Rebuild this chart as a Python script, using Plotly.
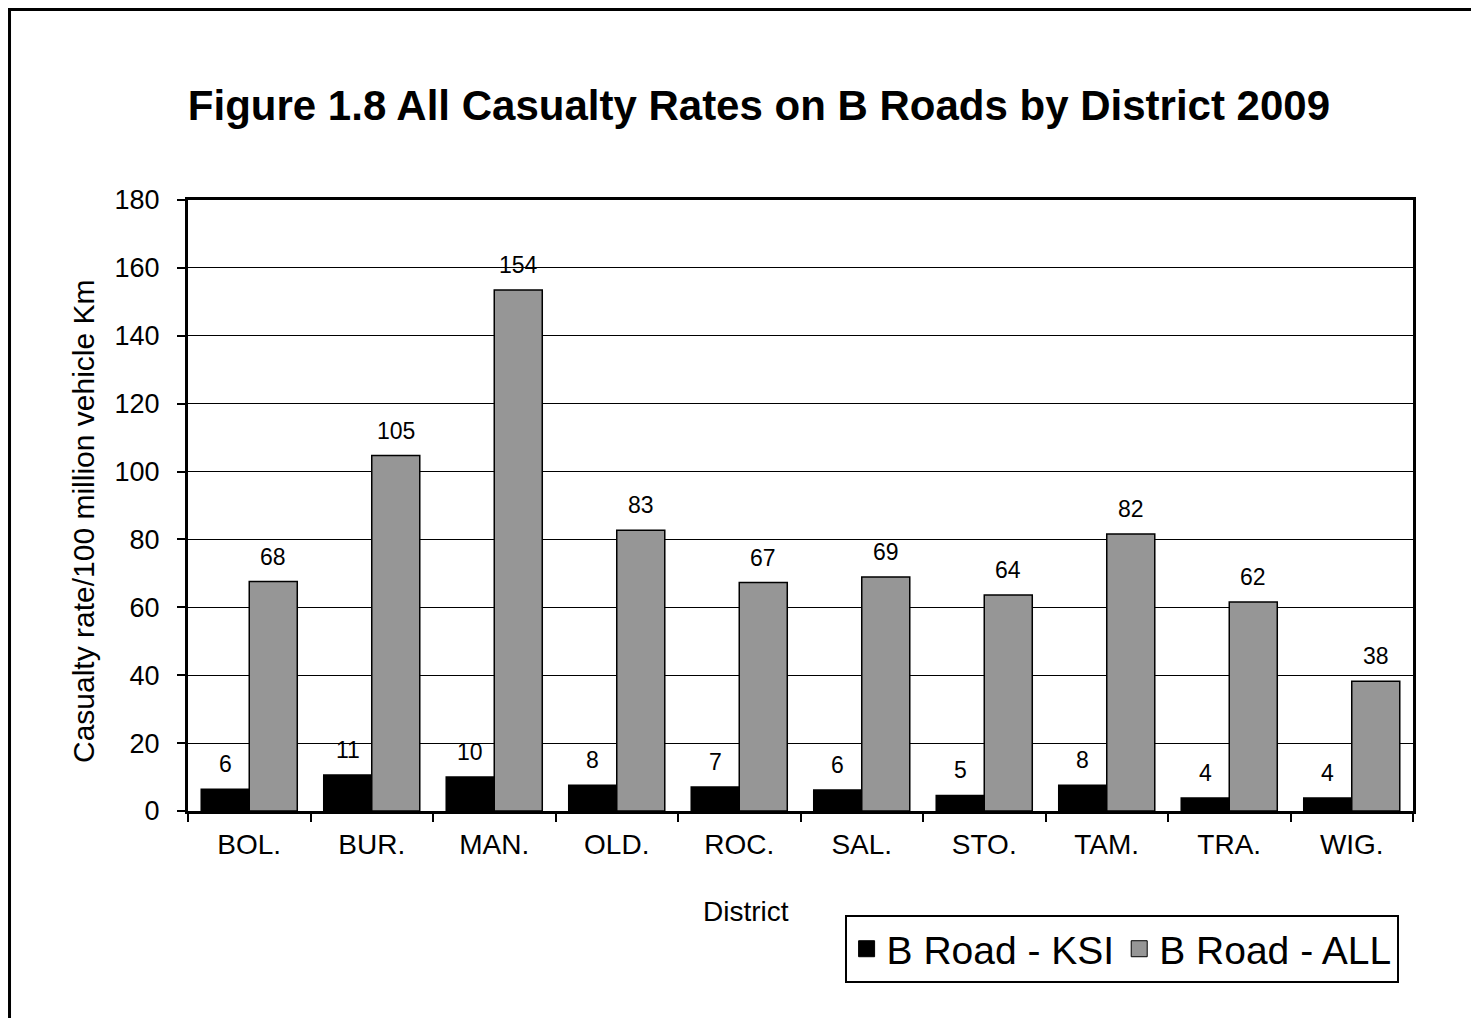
import plotly.graph_objects as go

districts = ["BOL.", "BUR.", "MAN.", "OLD.", "ROC.", "SAL.", "STO.", "TAM.", "TRA.", "WIG."]
ksi = [6.4, 10.6, 10.0, 7.6, 7.1, 6.2, 4.6, 7.6, 3.8, 3.8]
all_cas = [67.6, 104.7, 153.5, 82.7, 67.3, 68.9, 63.6, 81.6, 61.6, 38.2]
y_ticks = [0, 20, 40, 60, 80, 100, 120, 140, 160, 180]

FONT = "Liberation Sans, Arial, sans-serif"
GRAY = "rgb(150,150,150)"

W, H = 1471, 1010

fig = go.Figure()
fig.add_trace(go.Bar(name="B Road - KSI", x=districts, y=ksi,
                     marker=dict(color="black", line=dict(color="black", width=1.5)),
                     showlegend=False))
fig.add_trace(go.Bar(name="B Road - ALL", x=districts, y=all_cas,
                     marker=dict(color=GRAY, line=dict(color="black", width=1.5)),
                     showlegend=False))
# legend proxies (larger square symbols)
fig.add_trace(go.Scatter(name="B Road - KSI", x=[None], y=[None], mode="markers",
                         marker=dict(symbol="square", size=16, color="black",
                                     line=dict(color="black", width=1))))
fig.add_trace(go.Scatter(name="B Road - ALL", x=[None], y=[None], mode="markers",
                         marker=dict(symbol="square", size=16, color=GRAY,
                                     line=dict(color="black", width=1))))

annotations = []
for series, shift in ((ksi, -24), (all_cas, 24)):
    for d, v in zip(districts, series):
        annotations.append(dict(x=d, y=v, xref="x", yref="y", text=f"{v:.0f}",
                                showarrow=False, xshift=shift, yshift=25,
                                yanchor="middle", font=dict(size=23, color="black", family=FONT)))

annotations.append(dict(text="District", x=0.4555, y=-0.1637, xref="paper", yref="paper",
                        showarrow=False, yanchor="middle",
                        font=dict(size=28, color="black", family=FONT)))
annotations.append(dict(text="Casualty rate/100 million vehicle Km", x=-0.0857, y=0.4746,
                        xref="paper", yref="paper", showarrow=False, textangle=-90,
                        xanchor="center", yanchor="middle",
                        font=dict(size=30, color="black", family=FONT)))

fig.update_layout(
    width=W, height=H,
    paper_bgcolor="white", plot_bgcolor="white",
    margin=dict(l=180, r=66, t=192, b=207),
    font=dict(family=FONT, color="black", size=20),
    title=dict(text="<b>Figure 1.8 All Casualty Rates on B Roads by District 2009</b>",
               x=0.5105, xref="container", xanchor="center",
               y=0.904, yref="container", yanchor="middle",
               font=dict(size=42, family=FONT, color="black")),
    barmode="group", bargap=0.216, bargroupgap=0,
    showlegend=True,
    legend=dict(orientation="h", x=0.536, y=-0.170, xanchor="left", yanchor="top",
                bordercolor="black", borderwidth=2, bgcolor="white",
                font=dict(size=39, family=FONT, color="black"),
                itemwidth=30, tracegroupgap=0),
    annotations=annotations,
    shapes=[dict(type="rect", xref="paper", yref="paper",
                 x0=-0.1457, y0=-2, x1=2, y1=1.3118,
                 line=dict(color="black", width=3), fillcolor="rgba(0,0,0,0)", layer="below")],
)
fig.update_xaxes(type="category", categoryorder="array", categoryarray=districts,
                 showline=True, linecolor="black", linewidth=3, mirror=True,
                 ticks="outside", ticklen=8, tickwidth=2, tickcolor="black",
                 tickson="boundaries", showgrid=False, ticklabelstandoff=6,
                 tickfont=dict(size=28, family=FONT, color="black"))
fig.update_yaxes(range=[0, 180], tickvals=y_ticks, ticktext=[str(t) for t in y_ticks],
                 showline=True, linecolor="black", linewidth=3, mirror=True,
                 ticks="outside", ticklen=8, tickwidth=2, tickcolor="black",
                 showgrid=True, gridcolor="black", gridwidth=1, zeroline=False,
                 ticklabelstandoff=12,
                 tickfont=dict(size=27, family=FONT, color="black"))

fig.write_html("out.html")
